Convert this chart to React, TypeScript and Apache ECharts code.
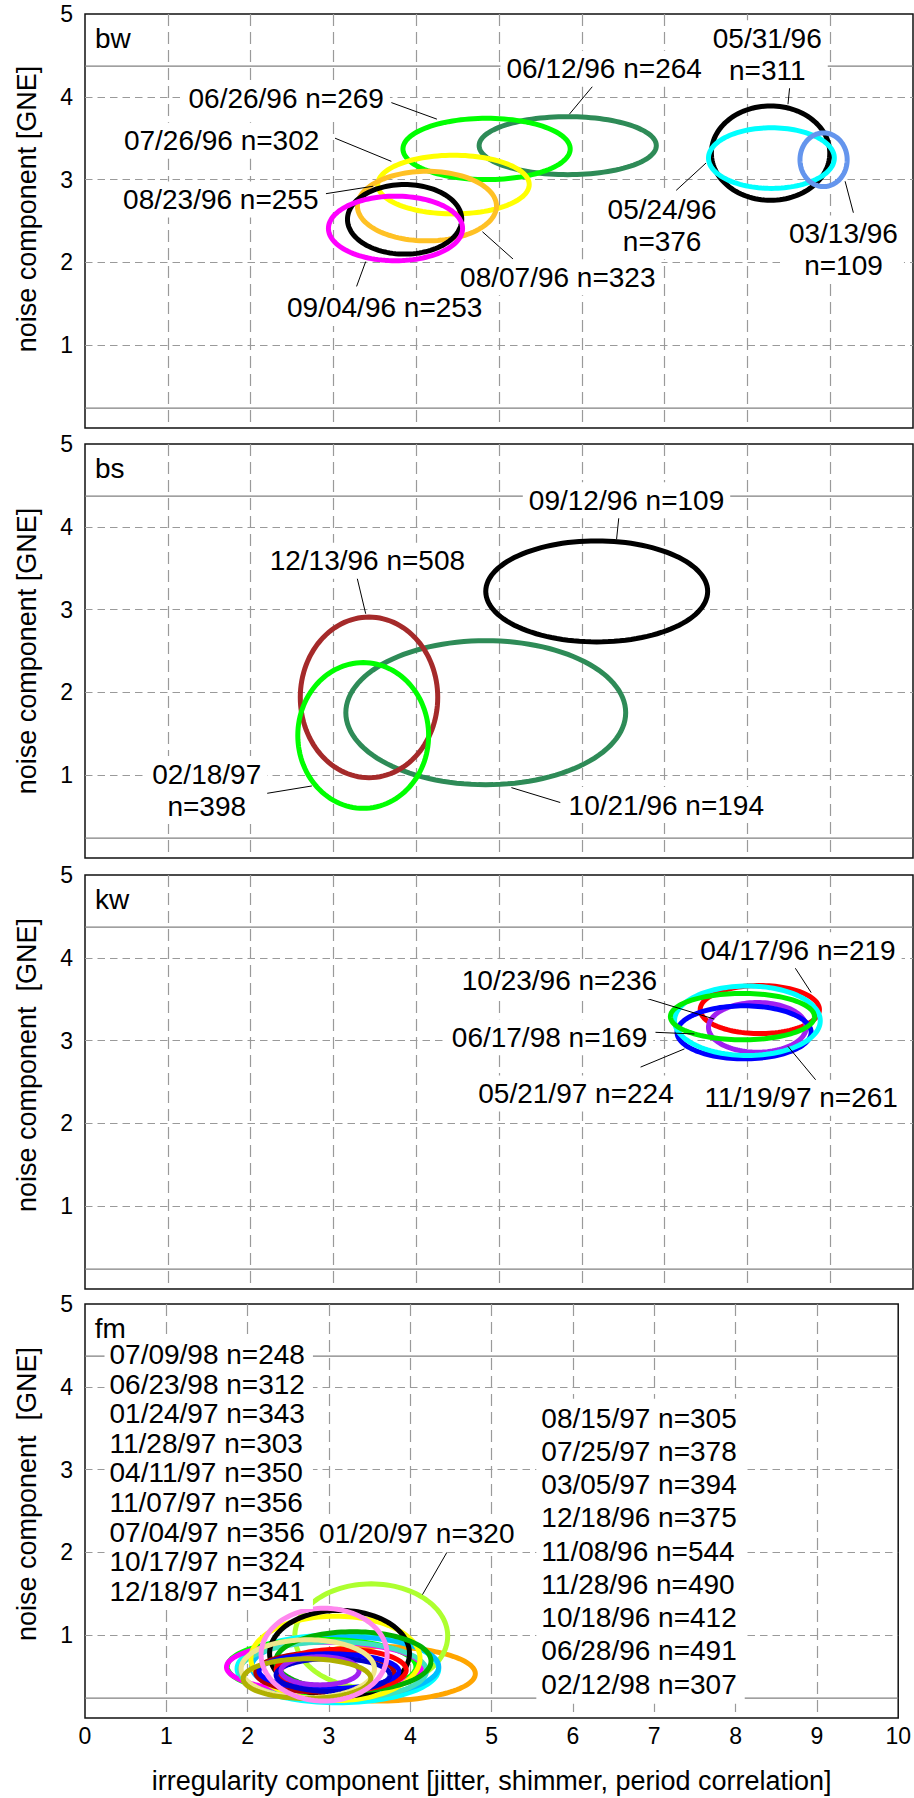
import React, { useEffect, useRef } from "react";
import * as echarts from "echarts";

// ---------- data ----------
const PANEL_IDS = ["bw", "bs", "kw", "fm"];
const PANEL_ID_POS = [0.12, 4.7];
const Y_NAMES = [
  "noise component [GNE]",
  "noise component [GNE]",
  "noise component \u00a0[GNE]",
  "noise component \u00a0[GNE]",
];
const X_NAME = "irregularity component [jitter, shimmer, period correlation]";
const REF_LEVELS = [4.37, 0.24];

// ellipses: [centre x, centre y, half-width, half-height]
const bwEllipses = [
  [5.83, 3.41, 1.07, 0.35],
  [4.85, 3.37, 1.01, 0.37],
  [4.45, 2.94, 0.915, 0.354],
  [4.13, 2.68, 0.84, 0.42],
  [3.86, 2.52, 0.69, 0.42],
  [3.75, 2.41, 0.81, 0.39],
  [8.28, 3.32, 0.715, 0.57],
  [8.29, 3.26, 0.76, 0.366],
  [8.92, 3.24, 0.285, 0.324],
];
const bwColors = ["#2e8b57", "#00ff00", "#ffff00", "#ffc125", "#000000", "#ff00ff", "#000000", "#00ffff", "#6495ed"];

const bsEllipses = [
  [6.18, 3.22, 1.34, 0.61],
  [4.84, 1.755, 1.69, 0.87],
  [3.43, 1.94, 0.83, 0.97],
  [3.36, 1.48, 0.79, 0.88],
];
const bsColors = ["#000000", "#2e8b57", "#a52a2a", "#00ff00"];

const kwEllipses = [
  [8.15, 3.375, 0.72, 0.29],
  [8.12, 3.16, 0.59, 0.3],
  [7.96, 3.1, 0.81, 0.32],
  [8.0, 3.24, 0.88, 0.42],
  [7.94, 3.29, 0.87, 0.28],
];
const kwColors = ["#ff0000", "#a020f0", "#0000ff", "#00ffff", "#00ee00"];

const fmEllipses = [
  [3.6, 0.535, 1.2, 0.33],
  [3.52, 0.99, 0.94, 0.63],
  [3.11, 0.595, 1.24, 0.41],
  [3.2, 0.62, 1.15, 0.36],
  [2.91, 0.62, 1.16, 0.33],
  [2.94, 0.615, 1.2, 0.3],
  [3.05, 0.57, 1.15, 0.35],
  [3.08, 0.72, 1.04, 0.51],
  [3.13, 0.78, 0.86, 0.52],
  [3.3, 0.686, 0.955, 0.356],
  [2.95, 0.55, 0.85, 0.24],
  [3.15, 0.58, 0.8, 0.25],
  [3.0, 0.565, 0.86, 0.21],
  [3.05, 0.52, 0.7, 0.2],
  [2.89, 0.57, 0.48, 0.17],
  [2.74, 0.595, 0.82, 0.35],
  [2.73, 0.475, 0.785, 0.24],
  [2.94, 0.765, 0.775, 0.56],
];
const fmColors = [
  "#ffa500", "#adff2f", "#00ffff", "#00bfff", "#00ff00", "#ff00ff",
  "#40e0c0", "#ffff00", "#000000", "#00b000", "#b00000", "#ff0000",
  "#0000ff", "#0000cd", "#a020f0", "#f0e68c", "#b0b000", "#ff88ee",
];

// labels: text, anchor [x, y] (centre of text), leader [x1, y1, x2, y2]
const bwLabelTexts = [
  "06/26/96 n=269", "06/12/96 n=264", "05/31/96\nn=311", "07/26/96 n=302",
  "08/23/96 n=255", "08/07/96 n=323", "09/04/96 n=253", "05/24/96\nn=376", "03/13/96\nn=109",
];
const bwLabelPos = [
  [2.43, 3.98], [6.27, 4.34], [8.24, 4.515], [1.65, 3.47],
  [1.64, 2.76], [5.71, 1.82], [3.62, 1.45], [6.97, 2.45], [9.16, 2.155],
];
const bwLeaders = [
  [3.7, 3.93, 4.25, 3.73],
  [6.15, 4.15, 5.85, 3.79],
  [8.51, 4.11, 8.49, 3.91],
  [3.02, 3.5, 3.7, 3.22],
  [2.91, 2.83, 3.48, 2.92],
  [5.17, 2.04, 4.8, 2.37],
  [3.28, 1.71, 3.39, 2.01],
  [7.14, 2.87, 7.5, 3.2],
  [9.28, 2.6, 9.18, 2.98],
];

const bsLabelTexts = ["09/12/96 n=109", "12/13/96 n=508", "02/18/97\nn=398", "10/21/96 n=194"];
const bsLabelPos = [[6.54, 4.32], [3.41, 3.59], [1.47, 0.82], [7.02, 0.64]];
const bsLeaders = [
  [6.45, 4.14, 6.42, 3.85],
  [3.28, 3.41, 3.39, 2.95],
  [2.07, 0.76, 2.74, 0.87],
  [5.74, 0.67, 5.15, 0.85],
];

const kwLabelTexts = ["04/17/96 n=219", "10/23/96 n=236", "06/17/98 n=169", "05/21/97 n=224", "11/19/97 n=261"];
const kwLabelPos = [[8.61, 4.09], [5.73, 3.72], [5.61, 3.04], [5.93, 2.36], [8.65, 2.31]];
const kwLeaders = [
  [8.51, 3.98, 8.77, 3.58],
  [6.52, 3.59, 7.6, 3.26],
  [6.89, 3.1, 7.36, 3.08],
  [6.71, 2.68, 7.24, 2.9],
  [8.83, 2.52, 8.49, 2.93],
];

const fmLabelTexts = ["01/20/97 n=320"];
const fmLabelPos = [[4.08, 2.23]];
const fmLeaders = [[4.45, 2.0, 4.15, 1.49]];

// fm: two columns of legend-like entries (first row and last row centres)
const fmLeftTexts = [
  "07/09/98 n=248", "06/23/98 n=312", "01/24/97 n=343", "11/28/97 n=303", "04/11/97 n=350",
  "11/07/97 n=356", "07/04/97 n=356", "10/17/97 n=324", "12/18/97 n=341",
];
const fmLeftX = 0.24;
const fmLeftRowsY = [4.39, 1.53];
const fmRightTexts = [
  "08/15/97 n=305", "07/25/97 n=378", "03/05/97 n=394", "12/18/96 n=375", "11/08/96 n=544",
  "11/28/96 n=490", "10/18/96 n=412", "06/28/96 n=491", "02/12/98 n=307",
];
const fmRightX = 5.55;
const fmRightRowsY = [3.62, 0.41];

// ---------- layout ----------
const FONT = "'Liberation Sans', Arial, Helvetica, sans-serif";
const GRID_TOPS = [14, 444, 875, 1304];
const GRID_H = 414;
const NAME_SHIFT = [24, 0, 34, 34];

type Label = { text: string; x: number; y: number; align: string; leader: number[] | null; kind: string; rows?: number[] };

function buildLabels(texts: string[], pos: number[][], leaders: (number[] | null)[]): Label[] {
  return texts.map((t, i) => ({ text: t, x: pos[i][0], y: pos[i][1], align: "center", leader: leaders[i], kind: "label" }));
}

const panelEllipses = [bwEllipses, bsEllipses, kwEllipses, fmEllipses];
const panelColors = [bwColors, bsColors, kwColors, fmColors];
const panelLabels: Label[][] = [
  buildLabels(bwLabelTexts, bwLabelPos, bwLeaders),
  buildLabels(bsLabelTexts, bsLabelPos, bsLeaders),
  buildLabels(kwLabelTexts, kwLabelPos, kwLeaders),
  [
    ...buildLabels(fmLabelTexts, fmLabelPos, fmLeaders),
    {
      text: fmLeftTexts.join("\n"),
      x: fmLeftX,
      y: (fmLeftRowsY[0] + fmLeftRowsY[1]) / 2,
      align: "left",
      leader: null,
      kind: "block",
      rows: [fmLeftRowsY[0], fmLeftRowsY[1], fmLeftTexts.length],
    },
    {
      text: fmRightTexts.join("\n"),
      x: fmRightX,
      y: (fmRightRowsY[0] + fmRightRowsY[1]) / 2,
      align: "left",
      leader: null,
      kind: "block",
      rows: [fmRightRowsY[0], fmRightRowsY[1], fmRightTexts.length],
    },
  ],
];
PANEL_IDS.forEach((id, g) => {
  panelLabels[g].push({ text: id, x: PANEL_ID_POS[0], y: PANEL_ID_POS[1], align: "left", leader: null, kind: "id" });
});

function buildOption() {
  const grid: any[] = [];
  const xAxis: any[] = [];
  const yAxis: any[] = [];
  const series: any[] = [];
  for (let g = 0; g < 4; g++) {
    grid.push({
      left: 85,
      right: 1,
      top: GRID_TOPS[g],
      height: GRID_H,
      show: true,
      borderColor: "#111",
      borderWidth: 1.5,
      backgroundColor: "transparent",
    });
    const last = g === 3;
    xAxis.push({
      type: "value",
      gridIndex: g,
      min: 0,
      max: 10,
      interval: 1,
      axisLine: { show: false },
      axisTick: { show: false },
      axisLabel: { show: last, color: "#000", fontSize: 23, fontFamily: FONT, margin: 6 },
      splitLine: {
        show: true,
        showMinLine: false,
        showMaxLine: false,
        lineStyle: { color: "#9a9a9a", width: 1.2, type: [12, 6] },
      },
      name: last ? X_NAME : "",
      nameLocation: "middle",
      nameGap: 49,
      nameTextStyle: { color: "#000", fontSize: 27, fontFamily: FONT },
    });
    yAxis.push({
      type: "value",
      gridIndex: g,
      min: 0,
      max: 5,
      interval: 1,
      axisLine: { show: false },
      axisTick: { show: false },
      axisLabel: {
        color: "#000",
        fontSize: 23,
        fontFamily: FONT,
        margin: 12,
        padding: [10, 0, 0, 0],
        formatter: (v: number) => (v === 0 ? "" : String(v)),
      },
      splitLine: {
        show: true,
        showMinLine: false,
        showMaxLine: false,
        lineStyle: { color: "#9a9a9a", width: 1.2, type: [7.5, 5] },
      },
      name: Y_NAMES[g],
      nameLocation: "middle",
      nameGap: 45,
      nameTextStyle: { color: "#000", fontSize: 27, fontFamily: FONT, padding: [0, 0, 0, NAME_SHIFT[g]] },
    });

    REF_LEVELS.forEach((lv) => {
      series.push({
        type: "line",
        xAxisIndex: g,
        yAxisIndex: g,
        data: [
          [0, lv],
          [10, lv],
        ],
        symbol: "none",
        silent: true,
        z: 2,
        lineStyle: { color: "#808080", width: 1.3 },
      });
    });

    const colors = panelColors[g];
    series.push({
      type: "custom",
      xAxisIndex: g,
      yAxisIndex: g,
      z: 3,
      silent: true,
      data: panelEllipses[g],
      renderItem: (params: any, api: any) => {
        const cx = api.value(0);
        const cy = api.value(1);
        const rx = api.value(2);
        const ry = api.value(3);
        const pts: number[][] = [];
        const n = 120;
        for (let k = 0; k < n; k++) {
          const t = (2 * Math.PI * k) / n;
          pts.push(api.coord([cx + rx * Math.cos(t), cy + ry * Math.sin(t)]));
        }
        return {
          type: "polygon",
          shape: { points: pts },
          style: { fill: "none", stroke: colors[params.dataIndex], lineWidth: 5 },
        };
      },
    });

    const labels = panelLabels[g];
    series.push({
      type: "custom",
      xAxisIndex: g,
      yAxisIndex: g,
      z: 4,
      silent: true,
      clip: false,
      data: labels.map((l) => [l.x, l.y]),
      renderItem: (params: any, api: any) => {
        const l = labels[params.dataIndex];
        const children: any[] = [];
        if (l.leader) {
          const a = api.coord([l.leader[0], l.leader[1]]);
          const b = api.coord([l.leader[2], l.leader[3]]);
          children.push({
            type: "line",
            shape: { x1: a[0], y1: a[1], x2: b[0], y2: b[1] },
            style: { stroke: "#000", lineWidth: 1 },
          });
        }
        const p = api.coord([api.value(0), api.value(1)]);
        let lineHeight = 32;
        let padding: number[] = [2, 6];
        let bg: string | undefined = "#fff";
        if (l.kind === "block" && l.rows) {
          const top = api.coord([0, l.rows[0]])[1];
          const bottom = api.coord([0, l.rows[1]])[1];
          lineHeight = (bottom - top) / (l.rows[2] - 1);
          padding = [3, 8, 3, 5];
        } else if (l.kind === "id") {
          lineHeight = 24;
          padding = [0, 0];
          bg = undefined;
        }
        children.push({
          type: "text",
          x: p[0],
          y: p[1],
          style: {
            text: l.text,
            fill: "#000",
            fontSize: 28,
            fontFamily: FONT,
            align: l.align,
            verticalAlign: "middle",
            lineHeight,
            backgroundColor: bg,
            padding,
          },
        });
        return { type: "group", children };
      },
    });
  }
  return { animation: false, backgroundColor: "#fff", grid, xAxis, yAxis, series };
}

export default function App() {
  const ref = useRef<HTMLDivElement>(null);
  useEffect(() => {
    if (!ref.current) return;
    const chart = echarts.init(ref.current, undefined, { renderer: "svg" });
    chart.setOption(buildOption() as any);
    return () => chart.dispose();
  }, []);
  return (
    <div
      ref={ref}
      style={{ position: "absolute", left: 0, top: 0, width: 914, height: 1798, background: "#fff" }}
    />
  );
}
